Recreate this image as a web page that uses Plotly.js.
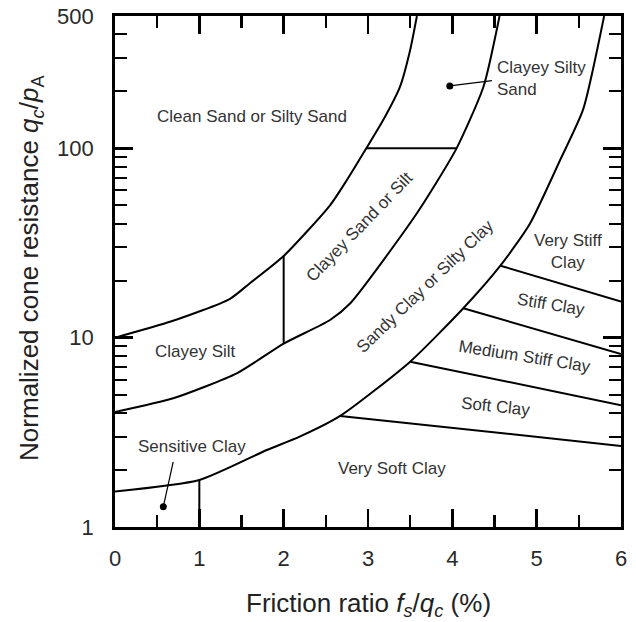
<!DOCTYPE html>
<html>
<head>
<meta charset="utf-8">
<script src="https://cdn.plot.ly/plotly-3.0.1.min.js"></script>
<style>html,body{margin:0;padding:0;background:#fff;}#chart{width:636px;height:622px;}</style>
</head>
<body>
<div id="chart"></div>
<script>
// Boundary curves (friction ratio %, normalized cone resistance)
const curveA_x = [0, 0.67, 1.36, 1.6, 2.0, 2.55, 2.75, 2.98, 3.18, 3.38, 3.5, 3.58];
const curveA_y = [10, 12.2, 16, 19.4, 27, 50, 68, 100, 141, 212, 331, 500];
const curveB_x = [0, 0.7, 1.45, 2.0, 2.55, 2.79, 3.58, 4.05, 4.37, 4.56];
const curveB_y = [4.05, 4.8, 6.5, 9.3, 12.4, 15.2, 45.4, 100, 212, 500];
const curveC_x = [0, 1.0, 1.8, 2.19, 2.67, 3.5, 4.13, 4.57, 4.92, 5.28, 5.55, 5.8];
const curveC_y = [1.54, 1.77, 2.55, 3.0, 3.86, 7.47, 14.3, 24, 40, 87, 160, 500];
// Straight dividing lines
const vline2_x = [2, 2];      const vline2_y = [9.3, 27];
const vline1_x = [1, 1];      const vline1_y = [1, 1.77];
const hline100_x = [2.98, 4.05]; const hline100_y = [100, 100];
const veryStiff_x = [4.57, 6]; const veryStiff_y = [24, 15.5];
const stiff_x = [4.13, 6];     const stiff_y = [14.3, 8.2];
const medium_x = [3.5, 6];     const medium_y = [7.47, 4.4];
const soft_x = [2.67, 6];      const soft_y = [3.86, 2.68];
// Marker dots and leader lines
const dots_x = [0.573, 3.97];
const dots_y = [1.28, 213.6];
const leaderSens_x = [0.573, 0.69]; const leaderSens_y = [1.28, 2.21];
const leaderCSS_x = [3.97, 4.47];   const leaderCSS_y = [213.6, 228];
// Zone labels
const zoneText = ["Clean Sand or Silty Sand", "Clayey Silt", "Sensitive Clay", "Very Soft Clay",
  "Soft Clay", "Medium Stiff Clay", "Stiff Clay", "Very Stiff<br>Clay",
  "Clayey Sand or Silt", "Sandy Clay or Silty Clay", "Clayey Silty<br>Sand"];
const zoneX = [1.625, 0.96, 0.91, 3.29, 4.51, 4.86, 5.17, 5.37, 2.905, 3.676, 4.506];
const zoneY = [146.5, 8.44, 2.66, 2.04, 4.32, 8.0, 14.9, 28.4, 38.6, 18.6, 234];
const zoneAngle = [0, 0, 0, 0, 6, 9, 9, 0, -46, -44, 0];
// Ticks
const yTickVals = [1, 10, 100, 500];
const yTickText = ["1", "10", "100", "500"];
const yMinorVals = [2,3,4,5,6,7,8,9,20,30,40,50,60,70,80,90,200,300,400];

const lineStyle = {color: '#000', width: 2, shape: 'spline', smoothing: 0.6};
function seg(x, y, smooth) {
  const ls = smooth ? lineStyle : {color: '#000', width: 2};
  return {x: x, y: y, type: 'scatter', mode: 'lines', line: ls, hoverinfo: 'skip', showlegend: false};
}
const traces = [
  seg(curveA_x, curveA_y, true), seg(curveB_x, curveB_y, true), seg(curveC_x, curveC_y, true),
  seg(vline2_x, vline2_y), seg(vline1_x, vline1_y), seg(hline100_x, hline100_y),
  seg(veryStiff_x, veryStiff_y), seg(stiff_x, stiff_y), seg(medium_x, medium_y), seg(soft_x, soft_y),
  {x: leaderSens_x, y: leaderSens_y, type: 'scatter', mode: 'lines', line: {color: '#000', width: 1.2}, hoverinfo: 'skip', showlegend: false},
  {x: leaderCSS_x, y: leaderCSS_y, type: 'scatter', mode: 'lines', line: {color: '#000', width: 1.2}, hoverinfo: 'skip', showlegend: false},
  {x: dots_x, y: dots_y, type: 'scatter', mode: 'markers', marker: {color: '#000', size: 7}, hoverinfo: 'skip', showlegend: false}
];

const fontFam = 'Arial, "Liberation Sans", sans-serif';
const annotations = zoneText.map((t, i) => ({
  x: zoneX[i], y: Math.log10(zoneY[i]), xref: 'x', yref: 'y', text: t, showarrow: false,
  textangle: zoneAngle[i], font: {family: fontFam, size: 17, color: '#333'},
  xanchor: i === 10 ? 'left' : 'center', yanchor: 'middle', align: i === 10 ? 'left' : 'center'
}));
annotations.push({
  x: 0.5, y: -0.1526, xref: 'paper', yref: 'paper', showarrow: false,
  xanchor: 'center', yanchor: 'middle',
  text: 'Friction ratio <i>f<sub>s</sub></i>/<i>q<sub>c</sub></i> (%)',
  font: {family: fontFam, size: 26, color: '#222'}
});
annotations.push({
  x: -0.166, y: 0.507, xref: 'paper', yref: 'paper', showarrow: false, textangle: -90,
  xanchor: 'center', yanchor: 'middle',
  text: 'Normalized cone resistance <i>q<sub>c</sub></i>/<i>p</i><sub>A</sub>',
  font: {family: fontFam, size: 26, color: '#222'}
});

const layout = {
  width: 636, height: 622,
  margin: {l: 115, r: 15, t: 16, b: 95},
  paper_bgcolor: '#fff', plot_bgcolor: '#fff',
  showlegend: false,
  xaxis: {
    range: [0, 6], dtick: 1, tick0: 0, ticks: 'inside', ticklen: 18, tickwidth: 2.5, tickcolor: '#000',
    showline: true, linewidth: 2.8, linecolor: '#000', mirror: 'ticks',
    showgrid: false, zeroline: false, ticklabelstandoff: 10,
    tickfont: {family: fontFam, size: 22, color: '#2a2a2a'},
    minor: {dtick: 0.5, tick0: 0, ticks: 'inside', ticklen: 12, tickwidth: 2.2, tickcolor: '#000', showgrid: false}
  },
  yaxis: {
    type: 'log', range: [0, Math.log10(500)], tickmode: 'array', tickvals: yTickVals, ticktext: yTickText,
    ticks: 'inside', ticklen: 18, tickwidth: 2.5, tickcolor: '#000',
    showline: true, linewidth: 2.8, linecolor: '#000', mirror: 'ticks',
    showgrid: false, zeroline: false, ticklabelstandoff: 14,
    tickfont: {family: fontFam, size: 22, color: '#2a2a2a'},
    minor: {tickmode: 'array', tickvals: yMinorVals, ticks: 'inside', ticklen: 12, tickwidth: 2.2, tickcolor: '#000', showgrid: false}
  },
  annotations: annotations
};

Plotly.newPlot('chart', traces, layout, {staticPlot: true, displayModeBar: false});
</script>
</body>
</html>
